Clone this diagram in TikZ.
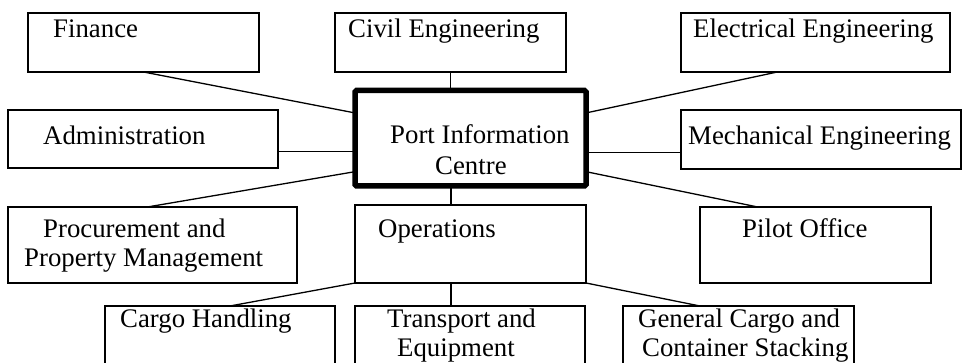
\documentclass[tikz,border=0pt]{standalone}
\usepackage{fontspec}
\setmainfont{Liberation Serif}
\usetikzlibrary{calc}
\begin{document}
\begin{tikzpicture}[x=1pt,y=-1pt,
  box/.style={draw, line width=1.3pt, inner sep=0pt, outer sep=0pt, anchor=north west},
  hub/.style={box, line width=5.5pt, rounded corners=1.5pt},
  unit/.style={box, line width=2.8pt},
  txt/.style={anchor=base west, inner sep=0pt, font=\fontsize{26.8}{30}\selectfont},
  link/.style={line width=1.3pt}]
\useasboundingbox (0,0) rectangle (962,363);
\clip (0,0) rectangle (962,363);

% departments (frames only; labels follow)
\node[box, minimum width=231pt, minimum height=59pt] (fin) at (28,13) {};
\node[box, minimum width=231pt, minimum height=59pt] (civ) at (335,13) {};
\node[box, minimum width=269pt, minimum height=59pt] (ele) at (681,13) {};
\node[box, minimum width=270pt, minimum height=58pt] (adm) at (8,110) {};
\node[hub, minimum width=231pt, minimum height=95.5pt] (pic) at (355,90.5) {};
\node[box, minimum width=280pt, minimum height=59pt] (mec) at (681,110) {};
\node[box, minimum width=289pt, minimum height=76pt] (pro) at (8,207) {};
\node[unit, minimum width=231pt, minimum height=78pt] (ops) at (355,205) {};
\node[box, minimum width=231pt, minimum height=76pt] (pil) at (700,207) {};
\node[box, minimum width=230pt, minimum height=94pt] (car) at (105,306) {};
\node[box, minimum width=230pt, minimum height=94pt] (tra) at (355,306) {};
\node[box, minimum width=231pt, minimum height=94pt] (gen) at (623,306) {};

% labels
\node[txt] (tfin) at (53,38) {Finance};
\node[txt] (tciv) at (348,38) {Civil Engineering};
\node[txt] (tele) at (693,38) {Electrical Engineering};
\node[txt] (tadm) at (43,145) {Administration};
\node[txt] (tpic1) at (390,144) {Port Information};
\node[txt] (tpic2) at (435,175) {Centre};
\node[txt] (tmec) at (688,145) {Mechanical Engineering};
\node[txt] (tpro1) at (43,238) {Procurement and};
\node[txt] (tpro2) at (24,267) {Property Management};
\node[txt] (tops) at (378,238) {Operations};
\node[txt] (tpil) at (742,238) {Pilot Office};
\node[txt] (tcar) at (120,328) {Cargo Handling};
\node[txt] (ttra1) at (387,328) {Transport and};
\node[txt] (ttra2) at (397,357) {Equipment};
\node[txt] (tgen1) at (638,328) {General Cargo and};
\node[txt] (tgen2) at (642,357) {Container Stacking};

% attachment points on the frames
\coordinate (picWu) at ($(pic.north west)!0.235!(pic.south west)$);
\coordinate (picEu) at ($(pic.north east)!0.235!(pic.south east)$);
\coordinate (picWl) at ($(pic.north west)!0.85!(pic.south west)$);
\coordinate (picEl) at ($(pic.north east)!0.85!(pic.south east)$);
\coordinate (picS) at ($(pic.south west)!0.415!(pic.south east)$);
\coordinate (eleS) at ($(ele.south west)!0.358!(ele.south east)$);
\coordinate (admE) at ($(adm.north east)!0.72!(adm.south east)$);
\coordinate (mecW) at ($(mec.north west)!0.72!(mec.south west)$);
\coordinate (proN) at ($(pro.north west)!0.482!(pro.north east)$);
\coordinate (pilN) at ($(pil.north west)!0.25!(pil.north east)$);
\coordinate (opsS) at ($(ops.south west)!0.415!(ops.south east)$);
\coordinate (carN) at ($(car.north west)!0.543!(car.north east)$);
\coordinate (genN) at ($(gen.north west)!0.333!(gen.north east)$);

% connectors
\draw[link] (fin.south) -- (picWu);
\draw[link] (civ.south) -- (civ.south |- pic.north);
\draw[link] (eleS) -- (picEu);
\draw[link] (admE) -- (admE -| pic.west);
\draw[link] (mecW) -- (mecW -| pic.east);
\draw[link] (picWl) -- (proN);
\draw[link] (picEl) -- (pilN);
\draw[link] (picS) -- (picS |- ops.north);
\draw[link] (ops.south west) -- (carN);
\draw[link] (opsS) -- (opsS |- tra.north);
\draw[link] (ops.south east) -- (genN);
\end{tikzpicture}
\end{document}
